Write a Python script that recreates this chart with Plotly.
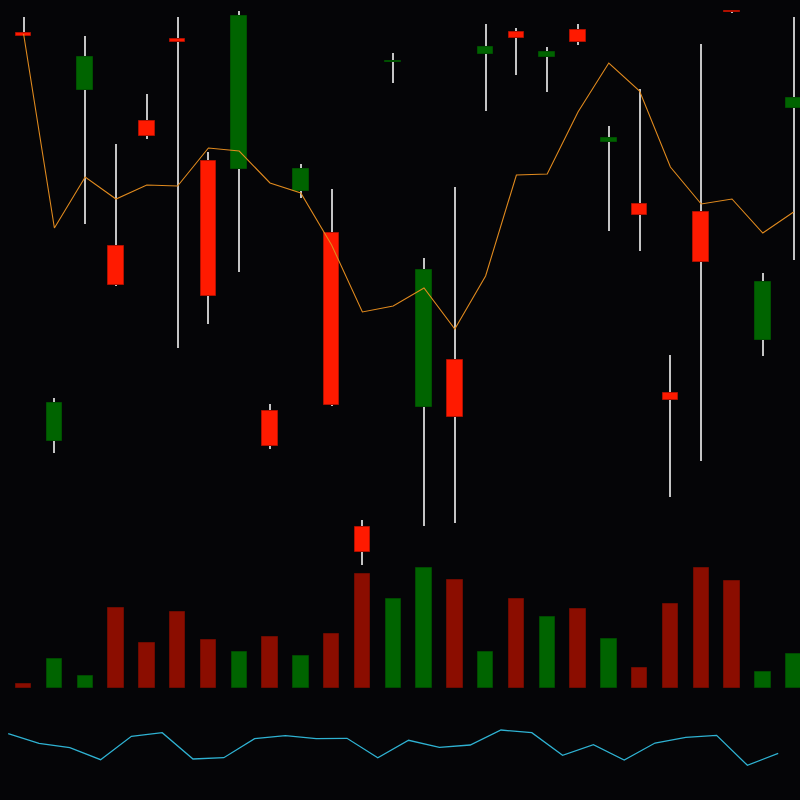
import plotly.graph_objects as go

# ---- data ----
opens  = [76.8, 36.0, 71.1, 55.5, 68.0, 76.2, 64.0, 63.2, 39.0, 61.0, 56.8, 27.4, 73.9,
          39.4, 44.1, 74.7, 76.9, 74.45, 77.1, 65.95, 59.7, 40.8, 58.9, 79.05, 46.1, 69.35]
highs  = [78.4, 40.3, 76.5, 65.7, 70.7, 78.4, 64.9, 79.0, 39.7, 63.7, 61.2, 28.1, 74.8,
          54.3, 61.4, 77.7, 77.3, 75.4, 77.7, 67.5, 71.2, 44.6, 75.7, 79.1, 52.8, 78.4]
lows   = [76.5, 34.8, 57.7, 51.5, 66.2, 45.3, 47.7, 52.9, 35.2, 60.3, 39.5, 23.6, 71.8,
          27.5, 27.8, 69.0, 72.6, 70.9, 75.6, 57.0, 55.0, 30.4, 34.0, 78.85, 44.5, 54.1]
closes = [76.5, 39.8, 74.4, 51.6, 66.5, 75.9, 50.5, 78.5, 35.5, 63.2, 39.6, 24.9, 73.9,
          53.1, 38.4, 75.4, 76.35, 74.95, 75.9, 66.3, 58.6, 40.1, 53.9, 78.9, 51.9, 70.3]
ma_line = [76.7, 57.3, 62.4, 60.2, 61.6, 61.5, 65.3, 65.0, 61.8, 60.8, 55.6, 48.9, 49.5,
           51.3, 47.2, 52.5, 62.6, 62.7, 68.9, 73.8, 71.0, 63.4, 59.7, 60.2, 56.8, 58.9]
volumes = [4, 29, 12, 80, 45, 76, 48, 36, 51, 32, 54, 114, 89,
           120, 108, 36, 89, 71, 79, 49, 20, 84, 120, 107, 16, 34]
volumes = [v * 1000 for v in volumes]
osc = [66.3, 56.7, 52.3, 40.3, 63.7, 67.3, 41.0, 42.3, 61.3, 64.3, 61.3, 61.7, 42.3,
       59.7, 52.7, 55.0, 70.0, 67.3, 44.7, 55.3, 40.0, 57.0, 62.7, 64.7, 34.7, 46.7]

n = len(opens)
xs = list(range(n))
up = [c >= o for o, c in zip(opens, closes)]

# ---- styles ----
BG = "#050507"
UP_BODY, UP_EDGE = "#006400", "#005000"
DN_BODY, DN_EDGE = "#ff1a00", "#b01000"
UP_VOL, DN_VOL = "#006400", "#8b0d00"
WICK = "#c4c4c4"

fig = go.Figure()

# volume
fig.add_trace(go.Bar(
    x=xs, y=volumes, width=0.5, yaxis="y2",
    marker=dict(color=[UP_VOL if u else DN_VOL for u in up],
                line=dict(color=["#004a00" if u else "#6e0a00" for u in up], width=1)),
    hoverinfo="skip", showlegend=False))

# wicks
fig.add_trace(go.Bar(
    x=xs, base=lows, y=[h - l for h, l in zip(highs, lows)], width=0.034,
    marker=dict(color=WICK, line=dict(width=0)),
    hoverinfo="skip", showlegend=False))

# bodies
fig.add_trace(go.Bar(
    x=xs, base=[min(o, c) for o, c in zip(opens, closes)],
    y=[max(abs(c - o), 0.1) for o, c in zip(opens, closes)], width=0.51,
    marker=dict(color=[UP_BODY if u else DN_BODY for u in up],
                line=dict(color=[UP_EDGE if u else DN_EDGE for u in up], width=1)),
    hoverinfo="skip", showlegend=False))

# moving average line
fig.add_trace(go.Scatter(
    x=xs, y=ma_line, mode="lines", line=dict(color="#e08a1e", width=1.1),
    hoverinfo="skip", showlegend=False))

# oscillator line
fig.add_trace(go.Scatter(
    x=[i - 0.5 for i in xs], y=osc, mode="lines", yaxis="y3",
    line=dict(color="#2fb2d2", width=1.3),
    hoverinfo="skip", showlegend=False))

hidden = dict(visible=False, showgrid=False, zeroline=False, fixedrange=True)
fig.update_layout(
    width=800, height=800,
    margin=dict(l=0, r=0, t=0, b=0),
    paper_bgcolor=BG, plot_bgcolor=BG,
    barmode="overlay", bargap=0,
    showlegend=False,
    xaxis=dict(range=[-23.6 / 30.8, 776.4 / 30.8], **hidden),
    yaxis=dict(range=[0.1, 80.1], domain=[0, 1], **hidden),
    yaxis2=dict(range=[-112000, 688000], overlaying="y", **hidden),
    yaxis3=dict(range=[0, 800], overlaying="y", **hidden),
)

fig.write_html("out.html")
